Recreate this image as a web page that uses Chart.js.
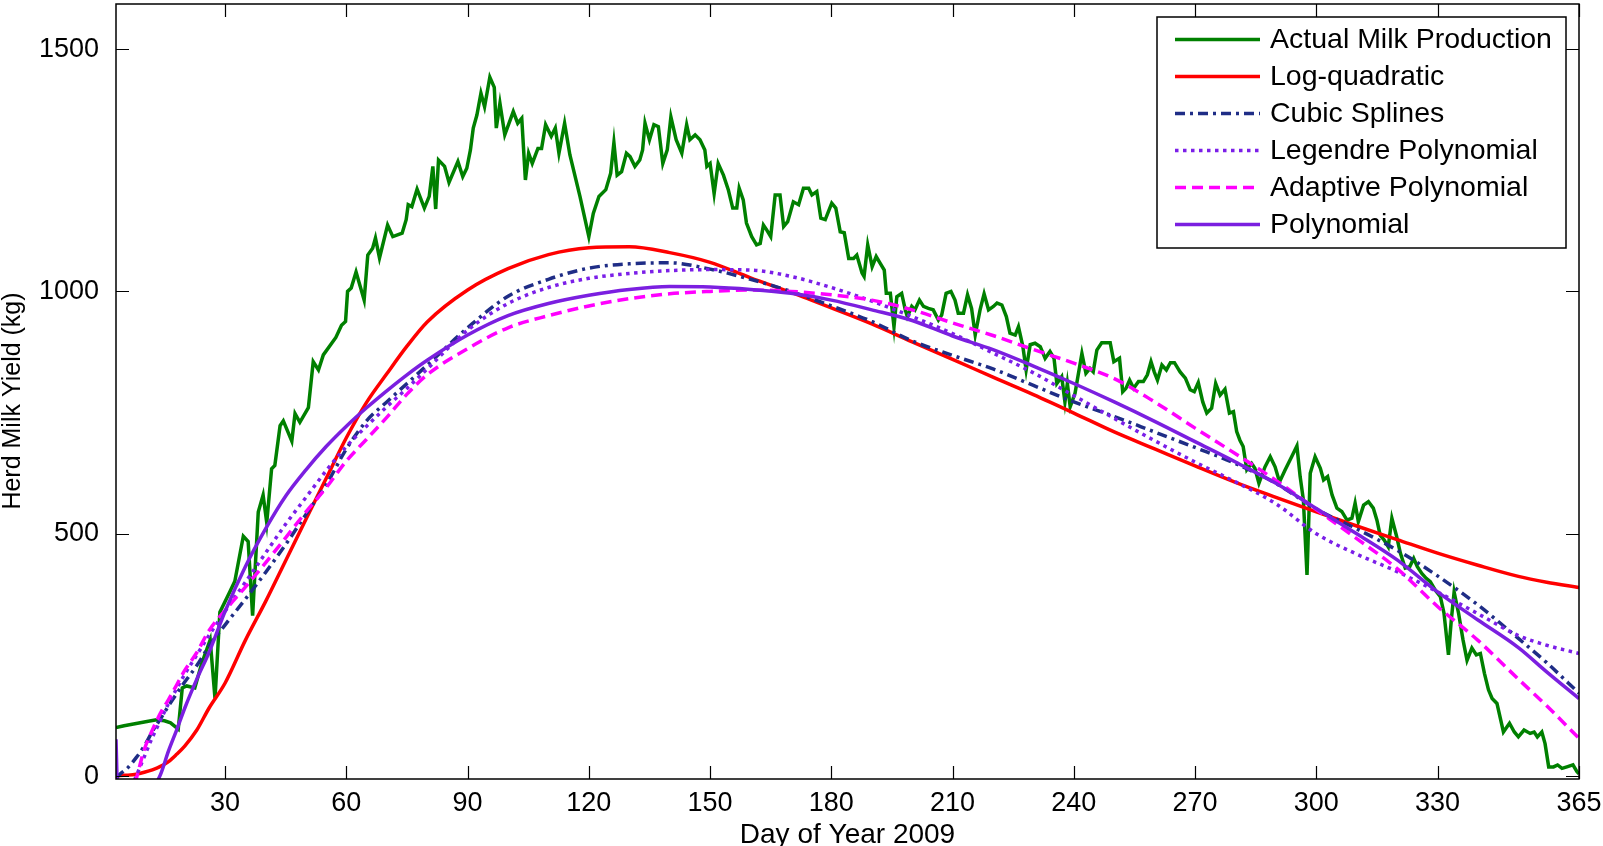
<!DOCTYPE html>
<html>
<head>
<meta charset="utf-8">
<script src="https://cdn.jsdelivr.net/npm/chart.js@4.4.0/dist/chart.umd.min.js"></script>
<style>
    html, body { margin: 0; padding: 0; background: #fff; }
    canvas { display: block; }
</style>
</head>
<body>
<canvas id="chart" width="1603" height="846"></canvas>
<script>
// Axis ticks
const xTicks = [30, 60, 90, 120, 150, 180, 210, 240, 270, 300, 330, 365];
const yTicks = [0, 500, 1000, 1500];

// Actual milk production (day of year, kg)
const actualDay = [
    3, 5, 7, 9, 11, 13, 15, 16.5, 18.4, 19.4,
    20.5, 22.5, 24.2, 26.3, 27.5, 28.7, 31.2, 32.4, 34.5, 35.7,
    36.8, 38.2, 39.4, 40.3, 41.5, 42.3, 43.6, 44.4, 46.5, 47.3,
    48.5, 50.6, 51.8, 53.1, 54.3, 57.4, 58.8, 59.8, 60.3, 61.2,
    62.4, 64.4, 65.3, 66.5, 67.2, 68.2, 70.2, 71.5, 73.8, 74.8,
    75.3, 76.2, 77.5, 79.3, 80.5, 81.4, 82.1, 82.8, 84.3, 85.4,
    87.6, 88.8, 89.8, 90.7, 91.4, 92.3, 93.3, 94.2, 95.5, 96.6,
    97.1, 98, 99.2, 101.3, 102.4, 103.4, 104.3, 105.1, 106, 107.4,
    108.3, 109.3, 110.7, 111.7, 112.6, 114, 115.3, 117.8, 120, 121.1,
    122.5, 124.2, 125.4, 126.2, 127, 128.1, 129.3, 130.2, 131.4, 132.6,
    133.3, 133.9, 135, 136.1, 137.2, 138.3, 139.4, 140.3, 141.6, 143,
    144.2, 145, 146.3, 147.5, 148.7, 149.2, 150, 151, 152, 153.3,
    154.5, 155.6, 156.6, 157.2, 158.2, 159, 160.3, 161.5, 162.4, 163.2,
    164, 165, 166.1, 167.3, 168.2, 169.2, 170.6, 171.9, 173.1, 174.4,
    175.2, 176.4, 177.4, 178.5, 180.1, 181.1, 182.2, 183.2, 184.3, 185.5,
    186.3, 187.6, 188.1, 189, 190.1, 191.1, 192.1, 193.1, 193.6, 194.6,
    195.5, 196.2, 197.4, 198.3, 198.8, 199.9, 200.7, 201.8, 202.8, 204,
    205.2, 206.5, 207.3, 208.4, 209.6, 210.6, 211.4, 212.7, 213.7, 214.7,
    215.6, 216.8, 217.8, 218.9, 220.1, 221, 222.2, 223.3, 224.2, 225.5,
    226.3, 227.4, 228.2, 229.2, 230.4, 231.7, 232.9, 234.1, 235.1, 235.8,
    237, 237.8, 238.4, 239.1, 240.3, 242, 243, 244, 244.8, 245.7,
    246.9, 249, 249.9, 251.3, 252.1, 252.9, 253.8, 254.8, 256, 257.2,
    258.2, 259.1, 259.9, 260.7, 261.8, 262.9, 263.9, 264.9, 266.3, 267.6,
    268.8, 269.8, 270.8, 271.9, 272.9, 274.1, 275.1, 276.2, 277.4, 278.5,
    279.5, 280.3, 281.1, 281.9, 282.8, 284, 284.8, 285.8, 287.3, 288.6,
    289.8, 290.9, 292.3, 293.9, 295.2, 296, 296.8, 297.7, 298.5, 299.7,
    301, 301.8, 302.8, 303.9, 305.1, 306.3, 307.6, 308.8, 309.6, 310.4,
    311.7, 312.9, 314.1, 315, 315.8, 316.8, 317.8, 318.7, 319.8, 320.8,
    322, 323.1, 324.1, 325, 326.1, 327.2, 328.2, 329.4, 330.7, 331.6,
    332.7, 333.4, 334.1, 335.2, 336.3, 337.3, 338.5, 339.6, 340.6, 341.6,
    342.6, 343.5, 344.7, 346.3, 347.8, 349, 350, 351.4, 352.9, 353.9,
    354.7, 355.8, 356.6, 357.5, 358.7, 359.7, 360.8, 362, 363.5, 364.5,
    365
];
const actualYield = [
    100, 104, 107, 110, 113, 116, 114, 110, 97, 182,
    186, 182, 232, 281, 160, 338, 381, 402, 495, 484,
    331, 545, 580, 523, 634, 641, 723, 733, 691, 748,
    730, 760, 855, 838, 869, 905, 930, 938, 1000, 1007,
    1040, 982, 1075, 1089, 1110, 1069, 1137, 1113, 1120, 1148,
    1179, 1175, 1211, 1172, 1196, 1258, 1170, 1271, 1258, 1225,
    1268, 1237, 1254, 1292, 1337, 1364, 1409, 1381, 1442, 1421,
    1337, 1388, 1323, 1371, 1347, 1357, 1230, 1285, 1264, 1295,
    1295, 1344, 1320, 1337, 1285, 1347, 1282, 1196, 1113, 1161,
    1196, 1210, 1244, 1307, 1240, 1247, 1285, 1278, 1258, 1271,
    1292, 1347, 1313, 1344, 1340, 1264, 1292, 1360, 1313, 1285,
    1344, 1313, 1323, 1313, 1292, 1258, 1264, 1202, 1264, 1240,
    1210, 1172, 1172, 1213, 1189, 1141, 1113, 1096, 1099, 1137,
    1127, 1113, 1199, 1199, 1134, 1144, 1185, 1179, 1213, 1213,
    1199, 1206, 1151, 1148, 1182, 1172, 1123, 1121, 1068, 1068,
    1075, 1038, 1031, 1096, 1051, 1072, 1058, 1044, 996, 996,
    927, 989, 996, 962, 948, 969, 962, 982, 969, 965,
    962, 941, 951, 996, 1000, 982, 955, 955, 993, 965,
    910, 962, 995, 962, 969, 976, 972, 948, 914, 910,
    927, 886, 838, 890, 893, 886, 862, 876, 862, 810,
    824, 772, 810, 762, 790, 872, 831, 841, 834, 879,
    894, 894, 855, 862, 793, 800, 817, 800, 814, 814,
    828, 855, 834, 817, 848, 838, 853, 853, 834, 821,
    797, 793, 812, 772, 749, 759, 810, 786, 798, 749,
    752, 711, 693, 680, 632, 645, 635, 604, 638, 659,
    638, 607, 632, 659, 681, 618, 570, 415, 625, 659,
    635, 611, 618, 580, 553, 546, 528, 532, 563, 525,
    559, 566, 553, 528, 497, 487, 473, 532, 497, 460,
    429, 432, 449, 432, 418, 408, 401, 384, 370, 336,
    250, 322, 380, 336, 281, 239, 264, 250, 253, 212,
    178, 160, 150, 91, 109, 91, 81, 95, 88, 91,
    81, 91, 67, 19, 19, 23, 16, 19, 23, 9,
    5
];

// Fitted curves, sampled at these days
const fitDay = [
    3, 4, 6, 8, 10, 12, 14, 16, 18, 20,
    23, 26, 30, 35, 40, 45, 50, 55, 60, 65,
    70, 75, 80, 90, 100, 110, 120, 130, 140, 150,
    160, 170, 180, 190, 200, 210, 220, 230, 240, 250,
    260, 270, 280, 290, 300, 310, 320, 330, 340, 350,
    357, 365
];
const logQuadratic = [
    0, 1, 2, 4, 8, 13, 20, 30, 45, 62,
    95, 140, 192, 280, 360, 445, 530, 614, 698, 771,
    830, 887, 937, 1003, 1047, 1076, 1090, 1092, 1080, 1060,
    1028, 998, 966, 933, 896, 860, 823, 787, 749, 710,
    675, 640, 606, 575, 545, 516, 488, 460, 435, 412,
    400, 389
];
const cubicSplines = [
    -4, 4, 18, 38, 62, 92, 118, 145, 170, 194,
    228, 268, 312, 365, 420, 478, 540, 601, 675, 733,
    772, 810, 848, 925, 990, 1025, 1048, 1057, 1059, 1046,
    1025, 1000, 970, 938, 898, 868, 840, 806, 772, 742,
    710, 678, 645, 604, 551, 510, 466, 413, 353, 284,
    234, 171
];
const legendrePoly = [
    -100, -80, -40, 0, 40, 80, 115, 150, 180, 210,
    250, 290, 340, 400, 460, 520, 575, 630, 680, 722,
    762, 800, 840, 920, 975, 1008, 1027, 1037, 1043, 1045,
    1044, 1031, 1008, 980, 948, 913, 873, 832, 785, 738,
    692, 648, 607, 562, 500, 458, 422, 380, 335, 290,
    270, 253
];
const adaptivePoly = [
    -150, -120, -60, -6, 55, 95, 130, 158, 188, 218,
    255, 300, 342, 390, 440, 492, 545, 595, 650, 695,
    740, 788, 828, 882, 925, 950, 970, 985, 995, 1000,
    1003, 1000, 993, 982, 962, 935, 909, 880, 852, 820,
    772, 718, 665, 610, 550, 490, 428, 350, 280, 200,
    145, 78
];
const polynomial = [
    76, -200, -170, -120, -70, -30, 3, 52, 95, 140,
    200, 255, 340, 432, 510, 578, 632, 680, 722, 760,
    795, 828, 858, 910, 950, 975, 992, 1004, 1010, 1009,
    1004, 996, 982, 962, 940, 908, 880, 846, 810, 772,
    732, 690, 648, 604, 552, 500, 446, 380, 322, 265,
    215, 160
];

const fontFamily = "'Liberation Sans', Arial, sans-serif";

function toPoints(days, values) {
    return days.map((d, i) => ({ x: d, y: values[i] }));
}

function fitLine(label, values, color, dash, order) {
    return {
        label: label,
        data: toPoints(fitDay, values),
        borderColor: color,
        borderWidth: 3.5,
        borderDash: dash,
        cubicInterpolationMode: 'monotone',
        pointRadius: 0,
        fill: false,
        order: order
    };
}

// Box, inward tick marks, y title and the legend, drawn on top
const framePlugin = {
    id: 'frame',
    afterDraw(chart) {
        const { ctx, chartArea: a, scales: { x, y } } = chart;
        ctx.save();
        ctx.strokeStyle = '#000';
        ctx.lineWidth = 1.5;
        ctx.setLineDash([]);
        ctx.strokeRect(a.left, a.top, a.right - a.left, a.bottom - a.top);

        ctx.lineWidth = 1.2;
        ctx.beginPath();
        xTicks.forEach(v => {
            const px = Math.round(x.getPixelForValue(v)) + 0.5;
            ctx.moveTo(px, a.bottom); ctx.lineTo(px, a.bottom - 13);
            ctx.moveTo(px, a.top); ctx.lineTo(px, a.top + 13);
        });
        yTicks.forEach(v => {
            const py = Math.round(y.getPixelForValue(v)) + 0.5;
            ctx.moveTo(a.left, py); ctx.lineTo(a.left + 13, py);
            ctx.moveTo(a.right, py); ctx.lineTo(a.right - 13, py);
        });
        ctx.stroke();

        // y axis title
        ctx.save();
        ctx.translate(13, 401);
        ctx.rotate(-Math.PI / 2);
        ctx.font = '25px ' + fontFamily;
        ctx.fillStyle = '#000';
        ctx.textAlign = 'center';
        ctx.textBaseline = 'middle';
        ctx.fillText('Herd Milk Yield (kg)', 0, 0);
        ctx.restore();

        // legend box
        const box = { left: 1157, top: 17, right: 1566, bottom: 248 };
        ctx.fillStyle = '#fff';
        ctx.fillRect(box.left, box.top, box.right - box.left, box.bottom - box.top);
        ctx.lineWidth = 1.5;
        ctx.strokeRect(box.left, box.top, box.right - box.left, box.bottom - box.top);

        ctx.font = '28.5px ' + fontFamily;
        ctx.textBaseline = 'middle';
        ctx.textAlign = 'left';
        chart.data.datasets.forEach((ds, i) => {
            const rowY = 39.5 + i * 37;
            ctx.strokeStyle = ds.borderColor;
            ctx.lineWidth = ds.borderWidth;
            ctx.setLineDash(ds.borderDash || []);
            ctx.beginPath();
            ctx.moveTo(1175, rowY);
            ctx.lineTo(1260, rowY);
            ctx.stroke();
            ctx.fillStyle = '#000';
            ctx.fillText(ds.label, 1270, rowY + 1);
        });
        ctx.restore();
    }
};

const chart = new Chart(document.getElementById('chart').getContext('2d'), {
    type: 'line',
    data: {
        datasets: [
            {
                label: 'Actual Milk Production',
                data: toPoints(actualDay, actualYield),
                borderColor: '#008000',
                borderWidth: 3.5,
                pointRadius: 0,
                tension: 0,
                fill: false,
                order: 6
            },
            fitLine('Log-quadratic', logQuadratic, '#ff0000', [], 5),
            fitLine('Cubic Splines', cubicSplines, '#1f2d86', [10, 5, 3, 5], 4),
            fitLine('Legendre Polynomial', legendrePoly, '#7b1fe8', [3.5, 4.5], 3),
            fitLine('Adaptive Polynomial', adaptivePoly, '#ff00ff', [11, 6], 2),
            fitLine('Polynomial', polynomial, '#7b1fe0', [], 1)
        ]
    },
    options: {
        responsive: false,
        animation: false,
        devicePixelRatio: 1,
        layout: { padding: { top: 4, right: 24, bottom: 0, left: 0 } },
        plugins: {
            legend: { display: false },
            tooltip: { enabled: false }
        },
        scales: {
            x: {
                type: 'linear',
                min: 3,
                max: 365,
                grid: { display: false },
                border: { display: false },
                afterBuildTicks: s => { s.ticks = xTicks.map(v => ({ value: v })); },
                afterFit: s => { s.height = 67; s.paddingLeft = 0; s.paddingRight = 0; },
                ticks: {
                    color: '#000',
                    font: { family: fontFamily, size: 27 },
                    padding: 0,
                    maxRotation: 0,
                    autoSkip: false,
                    callback: v => String(v)
                },
                title: {
                    display: true,
                    text: 'Day of Year 2009',
                    color: '#000',
                    font: { family: fontFamily, size: 28, lineHeight: 1 },
                    padding: { top: 0, bottom: -3 }
                }
            },
            y: {
                min: -6,
                max: 1593,
                grid: { display: false },
                border: { display: false },
                afterBuildTicks: s => { s.ticks = yTicks.map(v => ({ value: v })); },
                afterFit: s => { s.width = 116; s.paddingTop = 0; s.paddingBottom = 0; },
                ticks: {
                    color: '#000',
                    font: { family: fontFamily, size: 27 },
                    padding: 9,
                    callback: v => String(v)
                }
            }
        }
    },
    plugins: [framePlugin]
});
</script>
</body>
</html>
